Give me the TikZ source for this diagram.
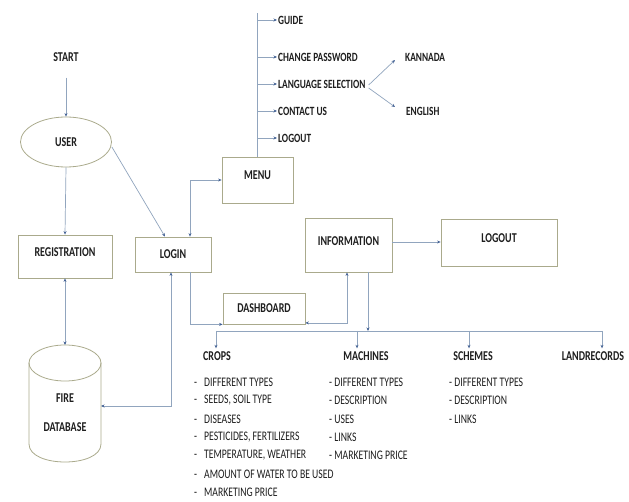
\documentclass[tikz,border=0pt]{standalone}
\usepackage{fontspec}
\usepackage{graphicx}
\setmainfont{Carlito}
\usetikzlibrary{shapes.geometric,arrows.meta}
\definecolor{ln}{RGB}{145,165,190}
\definecolor{bd}{RGB}{170,170,140}
\definecolor{ah}{RGB}{70,100,150}
\definecolor{tx}{RGB}{30,30,30}
\newcommand{\ys}[1]{\scalebox{1}[1.35]{#1}}
\begin{document}
\begin{tikzpicture}[x=1pt,y=-1pt,
  lbl/.style={font=\bfseries\fontsize{10}{12}\selectfont, text=tx, inner sep=0pt},
  mlbl/.style={font=\bfseries\fontsize{9.3}{12}\selectfont, text=tx, inner sep=0pt, anchor=west},
  itm/.style={font=\fontsize{9.7}{12}\selectfont, text=tx, inner sep=0pt, anchor=west},
  box/.style={draw=bd, line width=0.8pt, inner sep=0pt, lbl},
  line/.style={draw=ln, line width=0.7pt},
  arr/.style={line, -{Stealth[length=3.5pt,width=3pt,color=ah]}},
  arrb/.style={line, {Stealth[length=3.5pt,width=3pt,color=ah]}-{Stealth[length=3.5pt,width=3pt,color=ah]}},
]
\useasboundingbox[fill=white] (0,0) rectangle (629,502);

% nodes
\node[lbl] (start) at (66,57) {\ys{START}};
\node[draw=bd, line width=0.8pt, ellipse, minimum width=91pt, minimum height=50pt, inner sep=0pt, lbl] (user) at (66,142) {\ys{USER}};
\node[box, minimum width=94pt, minimum height=43pt, text depth=8pt] (registration) at (65,256.5) {\ys{REGISTRATION}};
\node[box, minimum width=76pt, minimum height=35pt] (login) at (173,254.5) {\ys{LOGIN}};
\node[box, minimum width=71pt, minimum height=46pt, text depth=9pt] (menu) at (257.5,180) {\ys{MENU}};
\node[box, minimum width=87pt, minimum height=54pt, text depth=8pt] (information) at (348.5,245) {\ys{INFORMATION}};
\node[box, minimum width=116pt, minimum height=47pt, text depth=9pt] (logoutbox) at (499,242.5) {\ys{LOGOUT}};
\node[box, minimum width=82pt, minimum height=31pt] (dashboard) at (264,308.5) {\ys{DASHBOARD}};

% menu items
\node[mlbl] (guide) at (278,20) {\ys{GUIDE}};
\node[mlbl] (chpw) at (278,57) {\ys{CHANGE PASSWORD}};
\node[mlbl] (lang) at (278,84) {\ys{LANGUAGE SELECTION}};
\node[mlbl] (contact) at (278,111) {\ys{CONTACT US}};
\node[mlbl] (mlogout) at (278,138) {\ys{LOGOUT}};
\node[mlbl] (kannada) at (405,57) {\ys{KANNADA}};
\node[mlbl] (english) at (406,111) {\ys{ENGLISH}};

% database cylinder
\draw[draw=bd, line width=0.8pt] (65,363) ellipse [x radius=36, y radius=18];
\draw[draw=bd, line width=0.8pt] (29,363) -- (29,444) .. controls (29,468) and (101,468) .. (101,444) -- (101,363);
\coordinate (dbtop) at (65,345);
\coordinate (dbright) at (101,406);
\node[lbl] (fire) at (65,398) {\ys{FIRE}};
\node[lbl] (database) at (65,427) {\ys{DATABASE}};

% category labels
\node[lbl] (crops) at (217,356) {\ys{CROPS}};
\node[lbl] (machines) at (366,356) {\ys{MACHINES}};
\node[lbl] (schemes) at (473,356) {\ys{SCHEMES}};
\node[lbl] (landrecords) at (593,356) {\ys{LANDRECORDS}};

% lists
\foreach \t [count=\i] in {DIFFERENT TYPES, {SEEDS, SOIL TYPE}, DISEASES, {PESTICIDES, FERTILIZERS}, {TEMPERATURE, WEATHER}, AMOUNT OF WATER TO BE USED, MARKETING PRICE}
  \node[itm] (crop\i) at (194,{382+18.4*(\i-1)}) {\ys{-\hspace{7pt}\t}};
\foreach \t [count=\i] in {DIFFERENT TYPES, DESCRIPTION, USES, LINKS, MARKETING PRICE}
  \node[itm] (mach\i) at (329,{382+18.4*(\i-1)}) {\ys{- \t}};
\foreach \t [count=\i] in {DIFFERENT TYPES, DESCRIPTION, LINKS}
  \node[itm] (sch\i) at (449,{382+18.4*(\i-1)}) {\ys{- \t}};

% connectors
\draw[arr] ([yshift=-16pt]start.south) -- (user.north);
\draw[arr] (user.south) -- (registration.north);
\draw[arr] ([yshift=-5pt]user.east) -- ([xshift=-8pt]login.north);
\draw[arrb] ([xshift=17pt]login.north) |- (menu.west);
\draw[arr] ([xshift=17pt]login.south) |- (dashboard.south west);
\draw[arrb] ([yshift=1.5pt]dashboard.south east) -| ([xshift=-1.5pt]information.south);
\draw[arr] ([yshift=3pt]information.east) -- ([yshift=3pt]information.east -| logoutbox.west);
\draw[arrb] (registration.south) -- (dbtop);
\draw[arrb] (dbright) -| ([xshift=-2pt]login.south);

% menu trunk
\coordinate (trunk) at (257.5,13);
\draw[line] (menu.north) -- (trunk);
\foreach \n in {guide,chpw,lang,contact,mlogout}
  \draw[arr] (\n.west -| menu.north) -- ([xshift=-1pt]\n.west);
\draw[arr] ([xshift=3pt,yshift=-1pt]lang.east) -- ([xshift=-10pt,yshift=-3pt]kannada.west);
\draw[arr] ([xshift=3pt,yshift=-4pt]lang.east) -- ([xshift=-11pt,yshift=4pt]english.west);

% bus
\coordinate (busL) at (216,331);
\coordinate (busR) at (602,331);
\coordinate (dm) at (357,331);
\coordinate (ds) at (469,331);
\draw[arr] ([xshift=19.5pt]information.south) -- ([xshift=19.5pt]information.south |- busL);
\draw[line] (busL) -- (busR);
\draw[arr] (busL) -- ([yshift=3pt]busL |- crops.north);
\draw[arr] (dm) -- ([yshift=3pt]dm |- machines.north);
\draw[arr] (ds) -- ([yshift=3pt]ds |- schemes.north);
\draw[arr] (busR) -- ([yshift=3pt]busR |- landrecords.north);
\end{tikzpicture}
\end{document}
